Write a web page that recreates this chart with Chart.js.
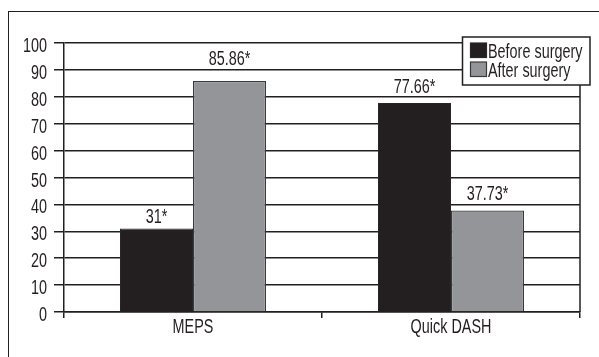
<!DOCTYPE html>
<html>
<head>
<meta charset="utf-8">
<script src="https://cdn.jsdelivr.net/npm/chart.js@4.4.1/dist/chart.umd.min.js"></script>
<style>
  html, body { margin: 0; padding: 0; background: #fff; overflow: hidden; }
  #wrap { position: relative; width: 599px; height: 357px; }
  #chart { position: absolute; left: 0; top: 0; }
  #frame { position: absolute; left: 8px; top: 11px; width: 700px; height: 500px;
           border: 1.5px solid #231f20; pointer-events: none; }
</style>
</head>
<body>
<div id="wrap">
  <canvas id="chart" width="599" height="357"></canvas>
  <div id="frame"></div>
</div>
<script>
const categories = ['MEPS', 'Quick DASH'];
const seriesNames = ['Before surgery', 'After surgery'];
const beforeSurgery = [31, 77.66];
const afterSurgery = [85.86, 37.73];
const yTicks = [0, 10, 20, 30, 40, 50, 60, 70, 80, 90, 100];

const INK = '#231f20';
const FONT = "20px 'Liberation Sans', Arial, sans-serif";
const SQUEEZE = 0.72;            // narrow, condensed lettering
const fills = ['#231f20', '#939598'];
const edges = ['#2a2627', '#3a3a3c'];
// gap in px between each value label and the top of its bar [series][category]
const labelGap = [[6, 10], [16, 11]];

// draw a horizontally condensed string
function squeezedText(ctx, text, x, y, align) {
  ctx.save();
  ctx.translate(x, y);
  ctx.scale(SQUEEZE, 1);
  ctx.textAlign = align;
  ctx.textBaseline = 'alphabetic';
  ctx.fillText(text, 0, 0);
  ctx.restore();
}

const textLayer = {
  id: 'textLayer',
  afterDraw(chart) {
    const ctx = chart.ctx, a = chart.chartArea;
    const xs = chart.scales.x, ys = chart.scales.y;
    ctx.save();
    ctx.font = FONT;
    ctx.fillStyle = INK;

    // right closing line of the plot
    ctx.strokeStyle = INK;
    ctx.lineWidth = 1.5;
    ctx.beginPath();
    ctx.moveTo(a.right, a.top);
    ctx.lineTo(a.right, a.bottom);
    ctx.stroke();

    // y tick labels
    yTicks.forEach(v => {
      squeezedText(ctx, String(v), a.left - 17, ys.getPixelForValue(v) + 9, 'right');
    });

    // category labels
    categories.forEach((c, i) => {
      squeezedText(ctx, c, xs.getPixelForValue(i), a.bottom + 21, 'center');
    });

    // value labels with significance star
    chart.data.datasets.forEach((ds, i) => {
      chart.getDatasetMeta(i).data.forEach((bar, j) => {
        squeezedText(ctx, String(ds.data[j]) + '*', bar.x, bar.y - labelGap[i][j], 'center');
      });
    });

    // legend box over the top right corner
    ctx.fillStyle = '#fff';
    ctx.fillRect(462.5, 37, 127.5, 48);
    ctx.strokeStyle = INK;
    ctx.lineWidth = 1.5;
    ctx.strokeRect(462.5, 37, 127.5, 48);
    seriesNames.forEach((name, i) => {
      const top = 43 + i * 19;
      ctx.fillStyle = fills[i];
      ctx.fillRect(470.5, top, 16, 14.5);
      ctx.strokeStyle = edges[i];
      ctx.lineWidth = 1.2;
      ctx.strokeRect(470.5, top, 16, 14.5);
      ctx.fillStyle = INK;
      squeezedText(ctx, name, 488, top + 14.5, 'left');
    });
    ctx.restore();
  }
};

new Chart(document.getElementById('chart'), {
  type: 'bar',
  data: {
    labels: categories,
    datasets: [
      { label: seriesNames[0], data: beforeSurgery, backgroundColor: fills[0],
        borderColor: edges[0], borderWidth: 1 },
      { label: seriesNames[1], data: afterSurgery, backgroundColor: fills[1],
        borderColor: edges[1], borderWidth: 1.2 }
    ]
  },
  options: {
    responsive: false,
    animation: false,
    devicePixelRatio: 1,
    layout: { padding: { left: 0, top: 43, right: 19, bottom: 0 } },
    datasets: { bar: { barPercentage: 1, categoryPercentage: 0.566 } },
    plugins: { legend: { display: false }, tooltip: { enabled: false } },
    scales: {
      x: {
        afterFit(s) { s.height = 45; },
        grid: { offset: true, drawOnChartArea: false, tickLength: 6, color: INK, lineWidth: 1.5 },
        border: { color: INK, width: 1.5 },
        ticks: { color: 'rgba(0,0,0,0)' }
      },
      y: {
        min: 0, max: 100,
        afterFit(s) { s.width = 64; },
        afterBuildTicks(s) { s.ticks = yTicks.map(v => ({ value: v })); },
        grid: { color: INK, lineWidth: 1.5, tickLength: 10 },
        border: { color: INK, width: 1.5 },
        ticks: { color: 'rgba(0,0,0,0)' }
      }
    }
  },
  plugins: [textLayer]
});
</script>
</body>
</html>
